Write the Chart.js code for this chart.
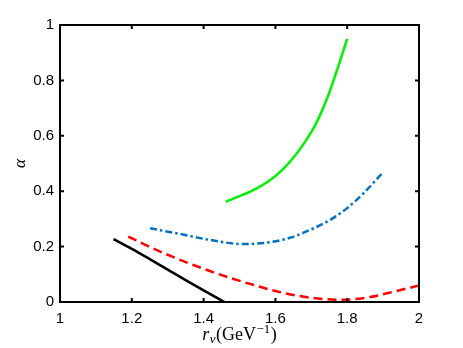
<!DOCTYPE html>
<html>
<head>
<meta charset="utf-8">
<script src="https://cdn.jsdelivr.net/npm/chart.js@4.4.1/dist/chart.umd.min.js"></script>
<style>
html,body{margin:0;padding:0;background:#fff;}
#wrap{width:463px;height:348px;position:relative;}
</style>
</head>
<body>
<div id="wrap"><canvas id="c" width="463" height="348"></canvas></div>
<script>
// Data
const xTicks = [1, 1.2, 1.4, 1.6, 1.8, 2];
const yTicks = [0, 0.2, 0.4, 0.6, 0.8, 1];

const blackX = [1.149, 1.20, 1.25, 1.30, 1.35, 1.40, 1.458];
const blackY = [0.227, 0.192, 0.155, 0.117, 0.079, 0.042, 0.0];

const redX = [1.19, 1.279, 1.371, 1.464, 1.557, 1.608, 1.696, 1.789, 1.864, 1.938, 1.998];
const redY = [0.236, 0.182, 0.134, 0.091, 0.055, 0.037, 0.016, 0.008, 0.018, 0.040, 0.059];

const blueX = [1.251, 1.325, 1.418, 1.511, 1.585, 1.641, 1.696, 1.752, 1.799, 1.845, 1.901];
const blueY = [0.266, 0.248, 0.224, 0.209, 0.216, 0.232, 0.26, 0.296, 0.338, 0.392, 0.47];

const greenX = [1.462, 1.50, 1.54, 1.58, 1.62, 1.66, 1.70, 1.72, 1.74, 1.76, 1.78, 1.80];
const greenY = [0.362, 0.382, 0.405, 0.435, 0.478, 0.537, 0.613, 0.662, 0.722, 0.792, 0.870, 0.950];

function pts(xs, ys){ return xs.map((x,i)=>({x:x, y:ys[i]})); }

const PLOT = {left:60, right:419, top:25, bottom:302};

const framePlugin = {
  id:'frame',
  afterDatasetsDraw(chart){
    const ctx = chart.ctx, a = chart.chartArea;
    const xs = chart.scales.x, ys = chart.scales.y;
    ctx.save();
    ctx.strokeStyle = '#000';
    ctx.lineWidth = 2;
    ctx.strokeRect(a.left, a.top, a.right - a.left, a.bottom - a.top);
    const L = 4;
    ctx.beginPath();
    xTicks.forEach(v=>{
      const p = xs.getPixelForValue(v);
      ctx.moveTo(p, a.bottom); ctx.lineTo(p, a.bottom - L);
      ctx.moveTo(p, a.top); ctx.lineTo(p, a.top + L);
    });
    yTicks.forEach(v=>{
      const p = ys.getPixelForValue(v);
      ctx.moveTo(a.left, p); ctx.lineTo(a.left + L, p);
      ctx.moveTo(a.right, p); ctx.lineTo(a.right - L, p);
    });
    ctx.stroke();
    // x-axis title: r_v(GeV^-1)
    ctx.fillStyle = '#000';
    ctx.textBaseline = 'alphabetic';
    const base = 340;
    const f1 = 'italic 18px "Liberation Serif", "DejaVu Serif", serif';
    const f2 = 'italic 13px "Liberation Serif", "DejaVu Serif", serif';
    const f3 = '18px "Liberation Serif", "DejaVu Serif", serif';
    const f4 = '13px "Liberation Serif", "DejaVu Serif", serif';
    const parts = [
      {t:'r', f:f1, dy:0, sp:0.5},
      {t:'v', f:f2, dy:3, sp:0.5},
      {t:'(GeV', f:f3, dy:0, sp:0.5},
      {t:'\u22121', f:f4, dy:-7, sp:0.5},
      {t:')', f:f3, dy:0, sp:0}
    ];
    let w = 0;
    parts.forEach(p=>{ ctx.font = p.f; p.w = ctx.measureText(p.t).width + p.sp; w += p.w; });
    let x = (a.left + a.right)/2 - w/2;
    parts.forEach(p=>{ ctx.font = p.f; ctx.fillText(p.t, x, base + p.dy); x += p.w; });
    // y-axis title
    ctx.save();
    ctx.translate(25, (a.top + a.bottom)/2);
    ctx.rotate(-Math.PI/2);
    ctx.font = 'italic 17px "Liberation Serif", "DejaVu Serif", serif';
    ctx.textAlign = 'center';
    ctx.fillText('\u03b1', 0, 0);
    ctx.restore();
    ctx.restore();
  }
};

const common = {pointRadius:0, fill:false, borderWidth:2.5, cubicInterpolationMode:'monotone'};

new Chart(document.getElementById('c'), {
  type:'line',
  data:{
    datasets:[
      Object.assign({label:'black', data:pts(blackX, blackY), borderColor:'#000000'}, common),
      Object.assign({label:'red', data:pts(redX, redY), borderColor:'#ff0000', borderDash:[9,5]}, common),
      Object.assign({label:'blue', data:pts(blueX, blueY), borderColor:'#0072bd', borderDash:[7,3,2.5,3]}, common),
      Object.assign({label:'green', data:pts(greenX, greenY), borderColor:'#00ee00'}, common)
    ]
  },
  options:{
    responsive:false,
    animation:false,
    layout:{padding:{top:PLOT.top, right:463-PLOT.right, left:0, bottom:0}},
    plugins:{legend:{display:false}, tooltip:{enabled:false}},
    scales:{
      x:{
        type:'linear', min:1, max:2,
        afterBuildTicks(s){ s.ticks = xTicks.map(v=>({value:v})); },
        afterFit(s){ s.height = 348 - PLOT.bottom; },
        grid:{display:false, drawTicks:false},
        border:{display:false},
        ticks:{padding:8, color:'#000', font:{family:'"Liberation Sans", Arial, sans-serif', size:15},
          callback:(v)=>String(v), maxRotation:0}
      },
      y:{
        type:'linear', min:0, max:1,
        afterBuildTicks(s){ s.ticks = yTicks.map(v=>({value:v})); },
        afterFit(s){ s.width = PLOT.left; },
        grid:{display:false, drawTicks:false},
        border:{display:false},
        ticks:{padding:6, color:'#000', font:{family:'"Liberation Sans", Arial, sans-serif', size:15},
          callback:(v)=>String(v)}
      }
    }
  },
  plugins:[framePlugin]
});
</script>
</body>
</html>
